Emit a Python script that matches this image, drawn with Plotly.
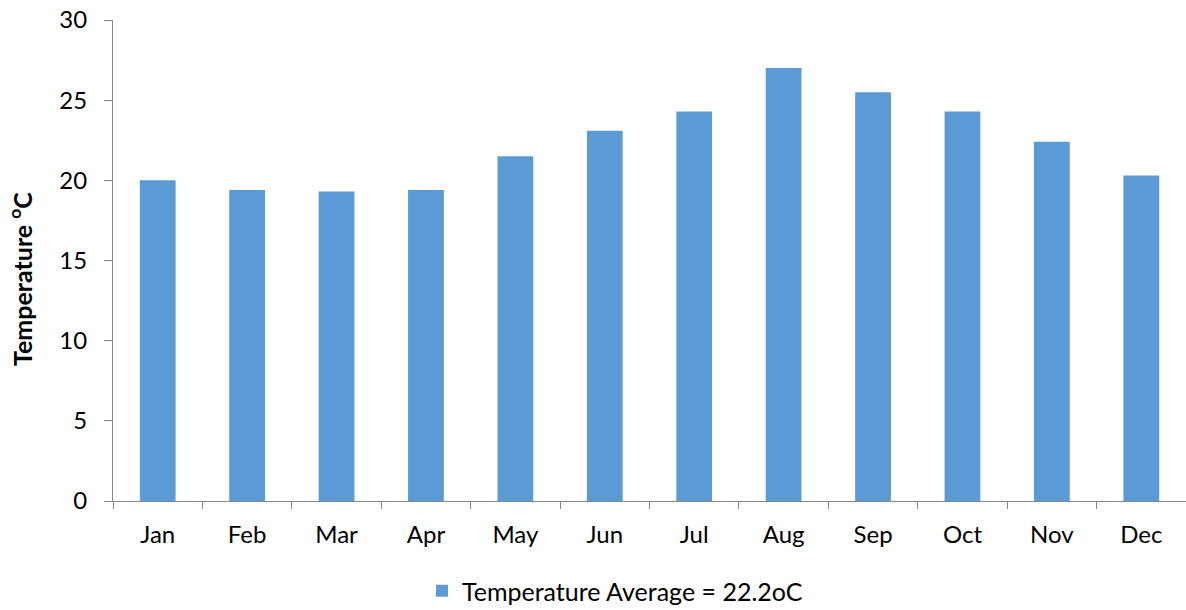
import plotly.graph_objects as go

months = ["Jan", "Feb", "Mar", "Apr", "May", "Jun",
          "Jul", "Aug", "Sep", "Oct", "Nov", "Dec"]
avg_temp = [20.0, 19.4, 19.3, 19.4, 21.5, 23.1, 24.3, 27.0, 25.5, 24.3, 22.4, 20.3]
series_name = "Temperature Average = 22.2oC"
y_ticks = [0, 5, 10, 15, 20, 25, 30]
y_title = "<b>Temperature <sup>o</sup>C</b>"

FONT = "Lato"
AXIS_GREY = "#868686"
BAR_BLUE = "#5B9BD5"

fig = go.Figure(
    go.Bar(
        x=months,
        y=avg_temp,
        name=series_name,
        marker=dict(color=BAR_BLUE, line=dict(width=0)),
        width=0.4,
        showlegend=True,
    )
)

fig.update_layout(
    width=1186,
    height=610,
    margin=dict(l=113, r=0, t=20, b=109, autoexpand=False),
    paper_bgcolor="white",
    plot_bgcolor="white",
    font=dict(family=FONT, size=24, color="#000000"),
    showlegend=True,
    legend=dict(
        orientation="h",
        xref="container",
        yref="container",
        x=422 / 1186,
        xanchor="left",
        y=(610 - 591) / 610,
        yanchor="middle",
        font=dict(family=FONT, size=25, color="#000000"),
        itemwidth=30,
    ),
    bargap=0.6,
)

fig.update_xaxes(
    type="category",
    automargin=False,
    showline=True,
    linecolor=AXIS_GREY,
    linewidth=1,
    ticks="outside",
    tickson="boundaries",
    ticklen=7,
    tickcolor=AXIS_GREY,
    showgrid=False,
    tickfont=dict(family=FONT, size=24),
    ticklabelstandoff=12,
)

fig.update_yaxes(
    range=[0, 30],
    tickvals=y_ticks,
    automargin=False,
    showline=True,
    linecolor=AXIS_GREY,
    linewidth=1,
    ticks="outside",
    ticklen=8,
    tickcolor=AXIS_GREY,
    showgrid=False,
    zeroline=False,
    tickfont=dict(family=FONT, size=24),
    ticklabelstandoff=12,
)

# Rotated y-axis title placed as an annotation so it can sit slightly below centre
fig.add_annotation(
    text=y_title,
    textangle=-90,
    xref="paper",
    yref="paper",
    x=-93 / 1073,
    xanchor="center",
    y=(501 - 279) / 481,
    yanchor="middle",
    showarrow=False,
    font=dict(family=FONT, size=25, color="#000000"),
)

fig.write_html("out.html")
